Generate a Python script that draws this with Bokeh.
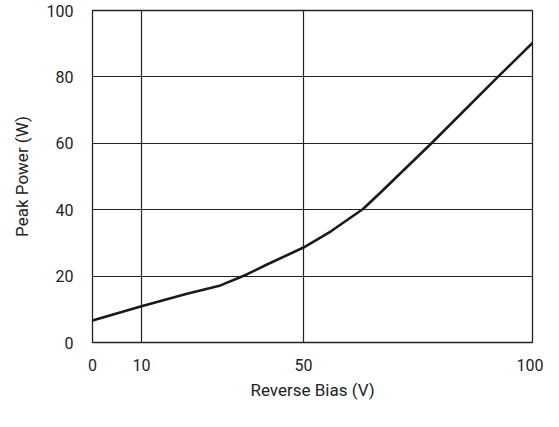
import numpy as np
from bokeh.plotting import figure
from bokeh.models import FixedTicker, Range1d
from bokeh.embed import file_html
from bokeh.resources import INLINE

# ---- data ----
bias_v = [0, 10, 21, 29.5, 36, 41, 50, 56, 63, 67, 78, 92.5, 100]
power_w = [6.6, 10.9, 14.6, 17.2, 20.5, 23.5, 28.6, 33.5, 40.2, 45.4, 60.1, 80.1, 90.2]

x_tick_values = [0, 10, 50, 100]
x_tick_labels = ["0", "10", "50", "100"]
x_grid_values = [10, 50]
y_tick_values = [0, 20, 40, 60, 80, 100]
y_grid_values = [20, 40, 60, 80]

# The reference uses an uneven (piecewise) voltage axis: each tick value
# is placed at a fixed fraction of the axis length.
axis_break_v = [0, 10, 50, 100]
axis_break_frac = [0.0, 0.1114, 0.4795, 1.0]


def x_scale(v):
    return (np.interp(np.asarray(v, dtype=float), axis_break_v, axis_break_frac) * 100.0).tolist()


FONT = "Roboto"
INK = "#222222"

p = figure(width=543, height=411, output_backend="svg", toolbar_location=None,
           x_range=Range1d(0, 100), y_range=Range1d(0, 100),
           min_border_left=92, min_border_right=11, min_border_top=10, min_border_bottom=69)

p.background_fill_color = "white"
p.border_fill_color = "white"
p.outline_line_color = INK
p.outline_line_width = 1.3

p.line(x_scale(bias_v), power_w, line_color="#1a1a1a", line_width=2.6)

xt = x_scale(x_tick_values)
p.xaxis.ticker = FixedTicker(ticks=xt)
p.xaxis.major_label_overrides = {t: lab for t, lab in zip(xt, x_tick_labels)}
p.yaxis.ticker = FixedTicker(ticks=y_tick_values)

p.xgrid.ticker = FixedTicker(ticks=x_scale(x_grid_values))
p.ygrid.ticker = FixedTicker(ticks=y_grid_values)
for g in (p.xgrid, p.ygrid):
    g.grid_line_color = INK
    g.grid_line_width = 1.2
    g.grid_line_alpha = 1.0

p.xaxis.axis_label = "Reverse Bias (V)"
p.yaxis.axis_label = "Peak Power (W)"

for ax in (p.xaxis, p.yaxis):
    ax.axis_line_color = None
    ax.major_tick_line_color = None
    ax.minor_tick_line_color = None
    ax.major_label_text_font = FONT
    ax.major_label_text_font_size = "16px"
    ax.major_label_text_color = INK
    ax.axis_label_text_font = FONT
    ax.axis_label_text_font_size = "17px"
    ax.axis_label_text_font_style = "normal"
    ax.axis_label_text_color = INK

p.xaxis.major_label_standoff = 10
p.yaxis.major_label_standoff = 13
p.xaxis.axis_label_standoff = 6
p.yaxis.axis_label_standoff = 12

open("out.html", "w").write(file_html(p, INLINE))
